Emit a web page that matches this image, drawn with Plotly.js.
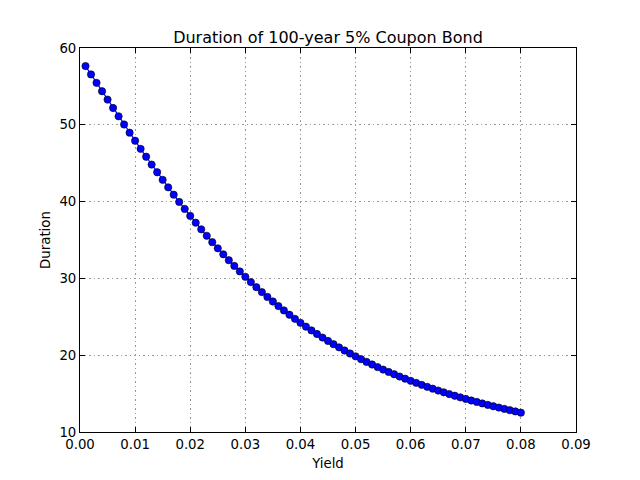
<!DOCTYPE html>
<html>
<head>
<meta charset="utf-8">
<script src="https://cdn.plot.ly/plotly-3.0.1.min.js"></script>
<style>html,body{margin:0;padding:0;background:#fff;}#chart{width:640px;height:480px;}</style>
</head>
<body>
<div id="chart"></div>
<script>
var yields = [0.001,0.002,0.003,0.004,0.005,0.006,0.007,0.008,0.009,0.010,
  0.011,0.012,0.013,0.014,0.015,0.016,0.017,0.018,0.019,0.020,
  0.021,0.022,0.023,0.024,0.025,0.026,0.027,0.028,0.029,0.030,
  0.031,0.032,0.033,0.034,0.035,0.036,0.037,0.038,0.039,0.040,
  0.041,0.042,0.043,0.044,0.045,0.046,0.047,0.048,0.049,0.050,
  0.051,0.052,0.053,0.054,0.055,0.056,0.057,0.058,0.059,0.060,
  0.061,0.062,0.063,0.064,0.065,0.066,0.067,0.068,0.069,0.070,
  0.071,0.072,0.073,0.074,0.075,0.076,0.077,0.078,0.079,0.080];
var durations = [57.65,56.56,55.46,54.37,53.28,52.19,51.11,50.04,48.97,47.92,
  46.87,45.84,44.82,43.82,42.83,41.86,40.90,39.96,39.04,38.14,
  37.25,36.39,35.55,34.72,33.92,33.14,32.37,31.63,30.91,30.21,
  29.52,28.86,28.22,27.59,26.99,26.40,25.83,25.27,24.74,24.22,
  23.72,23.23,22.76,22.30,21.86,21.43,21.02,20.61,20.22,19.85,
  19.48,19.13,18.79,18.45,18.13,17.82,17.52,17.22,16.94,16.66,
  16.40,16.14,15.88,15.64,15.40,15.17,14.94,14.72,14.51,14.31,
  14.10,13.91,13.72,13.53,13.35,13.18,13.01,12.84,12.68,12.52];
var xTicks = [0.00,0.01,0.02,0.03,0.04,0.05,0.06,0.07,0.08,0.09];
var xTickLabels = ['0.00','0.01','0.02','0.03','0.04','0.05','0.06','0.07','0.08','0.09'];
var yTicks = [10,20,30,40,50,60];
var yTickLabels = ['10','20','30','40','50','60'];

var trace = {
  x: yields, y: durations, type: 'scatter', mode: 'lines+markers',
  line: {color: '#0000ff', width: 1.2},
  marker: {color: '#0000ff', size: 7.3, line: {color: '#000000', width: 0.6}},
  hoverinfo: 'none'
};
var font = {family: 'DejaVu Sans, sans-serif', size: 13.3, color: '#000'};
var axisCommon = {
  showline: true, linecolor: '#000', linewidth: 1, mirror: 'ticks',
  ticks: 'inside', ticklen: 5, tickwidth: 1, tickcolor: '#000',
  showgrid: true, gridcolor: '#9a9a9a', gridwidth: 1, griddash: '1.5px,3px',
  zeroline: false, tickfont: font, tickmode: 'array'
};
var layout = {
  width: 640, height: 480,
  margin: {l: 80, r: 64, t: 48, b: 48, pad: 0},
  paper_bgcolor: '#fff', plot_bgcolor: '#fff',
  showlegend: false,
  title: {text: 'Duration of 100-year 5% Coupon Bond', font: {family: 'DejaVu Sans, sans-serif', size: 16, color: '#000'},
          x: 0.5, xref: 'paper', xanchor: 'center', y: 1, yref: 'paper', yanchor: 'bottom', pad: {b: 5}},
  xaxis: Object.assign({}, axisCommon, {range: [0, 0.09], tickvals: xTicks, ticktext: xTickLabels,
          title: {text: 'Yield', font: font, standoff: 7}}),
  yaxis: Object.assign({}, axisCommon, {range: [10, 60], tickvals: yTicks, ticktext: yTickLabels,
          title: {text: 'Duration', font: font, standoff: 5}})
};
Plotly.newPlot('chart', [trace], layout, {staticPlot: true, displayModeBar: false});
</script>
</body>
</html>
